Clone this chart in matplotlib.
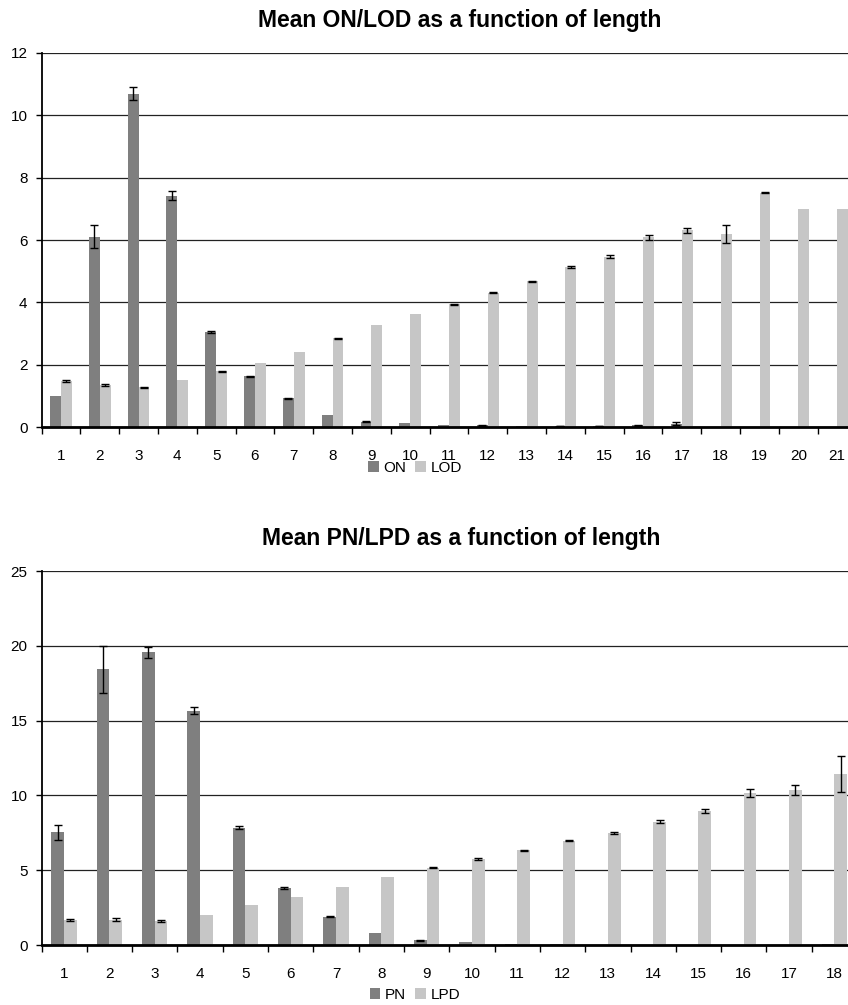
import numpy as np
import matplotlib
matplotlib.use("Agg")
import matplotlib.pyplot as plt
from matplotlib.ticker import FixedLocator

plt.rcParams['font.family'] = ['Liberation Sans', 'DejaVu Sans']

# top chart: ON / LOD by length
on_len = list(range(1, 22))
on_mean = [1.0, 6.1, 10.7, 7.42, 3.05, 1.63, 0.92, 0.40, 0.17, 0.13, 0.08,
           0.06, 0.04, 0.03, 0.03, 0.06, 0.11, 0, 0, 0, 0]
on_err = [0, 0.37, 0.22, 0.14, 0.04, 0.02, 0.02, 0, 0.02, 0, 0,
          0.02, 0, 0.01, 0.01, 0.02, 0.06, 0, 0, 0, 0]
lod_mean = [1.48, 1.34, 1.27, 1.5, 1.79, 2.06, 2.41, 2.84, 3.27, 3.62, 3.94,
            4.31, 4.67, 5.13, 5.46, 6.09, 6.31, 6.19, 7.52, 6.98, 6.98]
lod_err = [0.04, 0.03, 0.02, 0, 0.02, 0, 0, 0.02, 0, 0, 0.02,
           0.02, 0.01, 0.03, 0.05, 0.08, 0.09, 0.3, 0.02, 0, 0]

# bottom chart: PN / LPD by length
pn_len = list(range(1, 19))
pn_mean = [7.53, 18.43, 19.56, 15.66, 7.84, 3.79, 1.89, 0.78, 0.33, 0.18,
           0.10, 0.08, 0, 0, 0, 0, 0, 0.08]
pn_err = [0.5, 1.56, 0.37, 0.25, 0.1, 0.08, 0.03, 0, 0.03, 0,
          0, 0, 0, 0, 0, 0, 0, 0]
lpd_mean = [1.67, 1.7, 1.6, 2.0, 2.65, 3.23, 3.88, 4.52, 5.17, 5.75,
            6.33, 6.97, 7.49, 8.24, 8.96, 10.14, 10.36, 11.43]
lpd_err = [0.04, 0.1, 0.04, 0, 0, 0, 0, 0, 0.04, 0.04,
           0.04, 0.04, 0.04, 0.1, 0.14, 0.28, 0.34, 1.18]

DARK = '#7f7f7f'
LIGHT = '#c6c6c6'


def draw(ax, x, m1, e1, m2, e2, ymax, ystep, xright):
    x = np.array(x)
    w = 0.28
    ax.bar(x - w / 2, m1, w, color=DARK, zorder=2)
    ax.bar(x + w / 2, m2, w, color=LIGHT, zorder=2)
    for xs, m, e in ((x - w / 2, m1, e1), (x + w / 2, m2, e2)):
        xs = np.array(xs)
        m = np.array(m)
        e = np.array(e)
        k = e > 0
        ax.errorbar(xs[k], m[k], yerr=e[k], fmt='none', ecolor='black',
                    elinewidth=1, capsize=3, capthick=1, zorder=3)
    ax.set_ylim(0, ymax)
    ax.set_xlim(0.5, xright)
    ax.set_yticks(np.arange(0, ymax + 0.1, ystep))
    ax.yaxis.grid(True, color='#222222', linewidth=0.9)
    ax.set_axisbelow(True)
    ax.set_xticks(x)
    ax.set_xticklabels([str(v) for v in x])
    ax.xaxis.set_minor_locator(FixedLocator(np.arange(0.5, x[-1] + 1, 1)))
    ax.tick_params(axis='x', which='major', length=0, pad=15.5, labelsize=11)
    ax.tick_params(axis='x', which='minor', length=5, width=1, direction='out')
    ax.tick_params(axis='y', length=4, width=1, labelsize=11, pad=6)
    for s in ('top', 'right'):
        ax.spines[s].set_visible(False)
    ax.spines['left'].set_linewidth(1.3)
    ax.spines['bottom'].set_linewidth(2)


fig = plt.figure(figsize=(8.48, 10.05), dpi=100)

ax1 = fig.add_axes([41.5 / 848, 1 - 427 / 1005, 1 - 41.5 / 848, 374 / 1005])
draw(ax1, on_len, on_mean, on_err, lod_mean, lod_err, 12, 2, 21.28)
ax2 = fig.add_axes([41.5 / 848, 1 - 945 / 1005, 1 - 41.5 / 848, 374 / 1005])
draw(ax2, pn_len, pn_mean, pn_err, lpd_mean, lpd_err, 25, 5, 18.3)

fig.text(460 / 848, 1 - 20 / 1005, 'Mean ON/LOD as a function of length',
         ha='center', va='center', fontsize=16.5, fontweight='bold')
fig.text(461 / 848, 1 - 538 / 1005, 'Mean PN/LPD as a function of length',
         ha='center', va='center', fontsize=16.5, fontweight='bold')

for ax, labels, yc in ((ax1, ('ON', 'LOD'), 468), (ax2, ('PN', 'LPD'), 995)):
    h = ax.containers[:2]
    fig.legend(h, labels, loc='center', bbox_to_anchor=(415 / 848, 1 - yc / 1005),
               ncol=2, frameon=False, fontsize=11, handlelength=0.7,
               handleheight=0.7, handletextpad=0.3, columnspacing=0.6,
               borderpad=0)

fig.savefig('out.png', dpi=100)
